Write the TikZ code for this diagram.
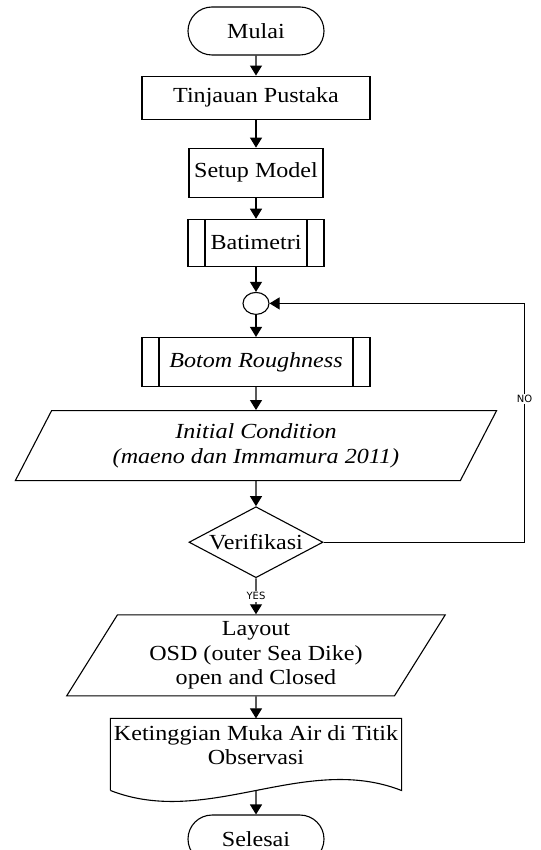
\documentclass[tikz,border=0pt]{standalone}
\usepackage{fontspec}
\setmainfont{Liberation Serif}[FakeStretch=1.12]
\newfontfamily\lblfont{DejaVu Sans}
\usepackage{tikz}
\usetikzlibrary{positioning,arrows.meta,shapes.geometric,shapes.misc}
\tikzset{
base/.style={
draw,
inner sep=0pt,
align=center,
font=\fontsize{21.5}{24.5}\selectfont
},
terminal/.style={
base,
rounded rectangle,
minimum width=136pt,
minimum height=48pt
},
process/.style={
base,
rectangle,
minimum height=43pt
},
subproc/.style={
process,
path picture={
\draw ([xshift=17pt]path picture bounding box.north west)--([xshift=17pt]path picture bounding box.south west)
([xshift=-17pt]path picture bounding box.north east)--([xshift=-17pt]path picture bounding box.south east);
}
},
konektor/.style={
draw,
ellipse,
inner sep=0pt,
minimum width=26pt,
minimum height=22pt
},
io/.style={
base,
trapezium,
trapezium left angle=60,
trapezium right angle=120,
trapezium stretches=true
},
decision/.style={
base,
diamond,
shape aspect=1.9,
minimum width=134pt,
minimum height=71pt
},
docbox/.style={
base,
draw=none,
minimum width=290pt,
minimum height=71pt
},
lbl/.style={
fill=white,
inner sep=1.5pt,
font=\lblfont\fontsize{10}{10}\selectfont
},
arrow/.style={
-{Triangle[length=10pt,width=12pt]},
line width=1.1pt
}
}

\begin{document}
\begin{tikzpicture}[node distance=22pt,line width=1.1pt]
\useasboundingbox (-256pt,31pt) rectangle (284pt,-819pt);
\node[terminal](a){Mulai};
\node[process,minimum width=228pt,below=20pt of a](b){Tinjauan Pustaka};
\node[process,minimum width=134pt,minimum height=49pt,below=28pt of b](c){Setup Model};
\node[subproc,minimum width=136pt,minimum height=47pt,below=21pt of c](d){Batimetri};
\node[konektor,below=25pt of d](e){};
\node[subproc,minimum width=228pt,minimum height=49pt,below=of e](f){\itshape Botom Roughness};
\node[io,minimum width=482pt,minimum height=70pt,below=23pt of f](g){\itshape Initial Condition\\\itshape (maeno dan Immamura 2011)};
\node[decision,below=25pt of g](h){Verifikasi};
\node[io,minimum width=380pt,minimum height=81pt,below=36pt of h](i){Layout\\OSD (outer Sea Dike)\\open and Closed};
\node[docbox,below=of i](j){Ketinggian Muka Air di Titik\\Observasi\\[-6pt]};
\node[terminal,below=24pt of j](k){Selesai};

% bentuk dokumen
\draw (j.south west)--(j.north west)--(j.north east)--(j.south east)
 .. controls ++(-97pt,38pt) and ([xshift=97pt,yshift=-38pt]j.south west) .. (j.south west);

\foreach \x/\y in {a/b,b/c,c/d,d/e,e/f,f/g,g/h,j/k}
\draw[arrow](\x)--(\y);
\draw[arrow](h)--node[lbl]{YES}(i);
\draw[arrow](i)--(j);
\coordinate[right=201pt of h.east](z);
\draw[arrow](h.east)--(z)|-node[lbl,pos=0.3]{NO}(e.east);
\end{tikzpicture}
\end{document}
